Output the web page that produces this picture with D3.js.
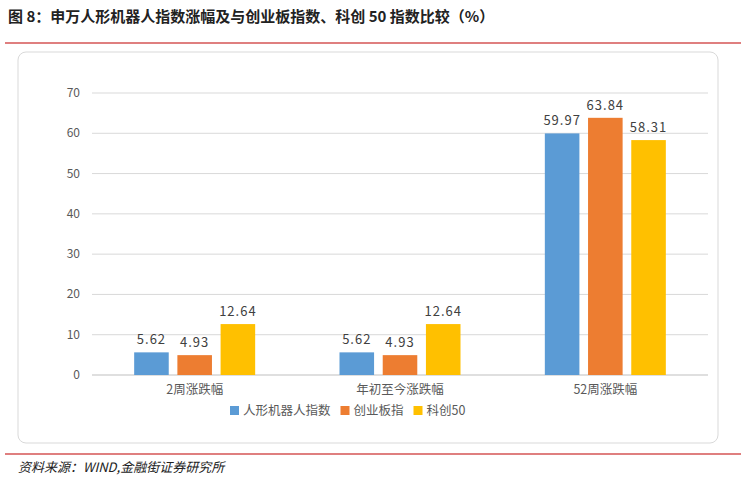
<!DOCTYPE html>
<html><head><meta charset="utf-8">
<script src="https://cdn.jsdelivr.net/npm/d3@7"></script>
<style>body{margin:0;background:#fff}svg{display:block}</style>
</head><body><svg></svg>
<script>
const categories = ['2周涨跌幅', '年初至今涨跌幅', '52周涨跌幅']
const seriesNames = ['人形机器人指数', '创业板指', '科创50']
const robotValues = [5.62, 5.62, 59.97]
const chinextValues = [4.93, 4.93, 63.84]
const star50Values = [12.64, 12.64, 58.31]
const yTicks = [0, 10, 20, 30, 40, 50, 60, 70]
const colors = ['#5b9bd5', '#ed7d31', '#ffc000']

const svg = d3.select('svg').attr('width', 746).attr('height', 485)
  .style('font-family', '"Noto Sans CJK SC", "Noto Sans", sans-serif')

svg.append('text').text('图 8：申万人形机器人指数涨幅及与创业板指数、科创 50 指数比较（%）')
  .attr('x', 8).attr('y', 22).style('font-size', '15px').style('font-weight', 'bold').attr('fill', '#222')
svg.append('line').attr('x1', 5).attr('x2', 741).attr('y1', 43).attr('y2', 43)
  .attr('stroke', '#c00000').attr('stroke-width', 1.2)

svg.append('rect').attr('x', 18).attr('y', 52).attr('width', 700).attr('height', 391)
  .attr('rx', 8).attr('fill', 'none').attr('stroke', '#d9d9d9')

const y = d3.scaleLinear().domain([0, 70]).range([375, 93])
const x = d3.scaleBand().domain(categories).range([92, 708])
const xs = d3.scaleBand().domain(seriesNames).range([0, 121]).paddingInner(0.2)
const series = [robotValues, chinextValues, star50Values]

svg.append('g').selectAll('line').data(yTicks).join('line')
  .attr('x1', 92).attr('x2', 708).attr('y1', d => y(d)).attr('y2', d => y(d))
  .attr('stroke', d => d === 0 ? '#bfbfbf' : '#d9d9d9')
svg.append('g').selectAll('text').data(yTicks).join('text')
  .attr('x', 80).attr('y', d => y(d) + 4).attr('text-anchor', 'end')
  .style('font-size', '12px').attr('fill', '#595959').text(d => d)

categories.forEach((c, i) => {
  const g = svg.append('g').attr('transform', `translate(${x(c) + x.bandwidth() / 2 - 60.5},0)`)
  seriesNames.forEach((s, j) => {
    const v = series[j][i]
    g.append('rect').attr('x', xs(s)).attr('width', xs.bandwidth())
      .attr('y', y(v)).attr('height', y(0) - y(v)).attr('fill', colors[j])
    g.append('text').attr('x', xs(s) + xs.bandwidth() / 2).attr('y', y(v) - 8)
      .attr('text-anchor', 'middle').style('font-size', '13px').style('letter-spacing', '1px')
      .attr('fill', '#404040').text(v.toFixed(2))
  })
  svg.append('text').attr('x', x(c) + x.bandwidth() / 2).attr('y', 394).attr('text-anchor', 'middle')
    .style('font-size', '12.5px').attr('fill', '#595959').text(c)
})

const legend = svg.append('g').attr('transform', 'translate(230,411)')
let lx = 0
seriesNames.forEach((s, j) => {
  legend.append('rect').attr('x', lx).attr('y', -5).attr('width', 9).attr('height', 9).attr('fill', colors[j])
  legend.append('text').attr('x', lx + 13).attr('y', 4).style('font-size', '12.5px').attr('fill', '#595959').text(s)
  lx += 13 + (j === 2 ? 40 : s.length * 12.5) + 10
})

svg.append('line').attr('x1', 5).attr('x2', 741).attr('y1', 454).attr('y2', 454)
  .attr('stroke', '#c00000').attr('stroke-width', 1.2)
svg.append('text').text('资料来源：WIND,金融街证券研究所').attr('x', 18).attr('y', 472)
  .style('font-size', '13px').style('font-style', 'italic').attr('fill', '#222')
</script></body></html>
